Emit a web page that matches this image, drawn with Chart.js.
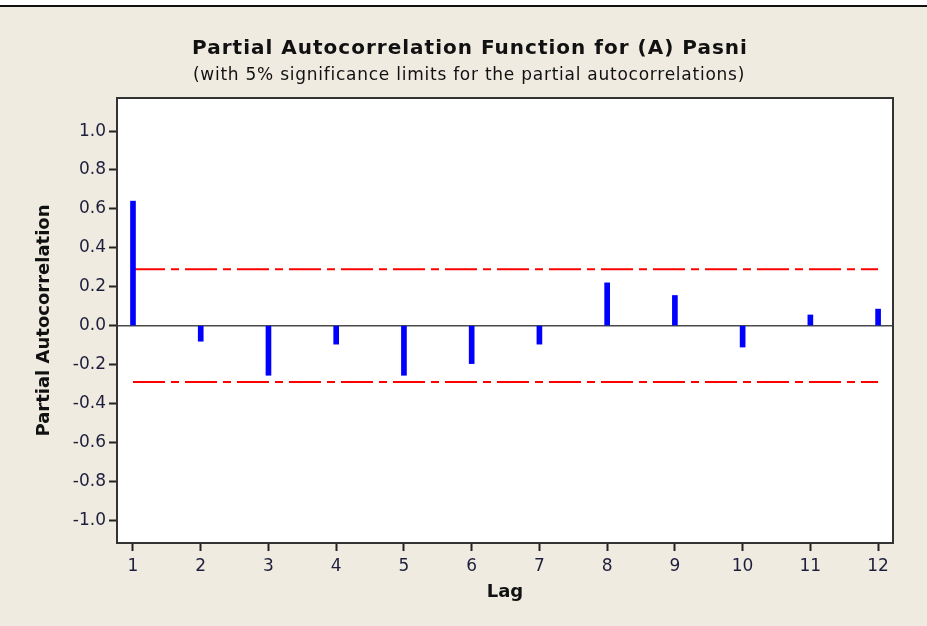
<!DOCTYPE html>
<html>
<head>
<meta charset="utf-8">
<title>Partial Autocorrelation Function for (A) Pasni</title>
<script src="https://cdn.jsdelivr.net/npm/chart.js@4.4.1/dist/chart.umd.min.js"></script>
<style>
  html, body { margin: 0; padding: 0; background: #efebe1; }
  #wrap { width: 927px; height: 626px; position: relative; }
</style>
</head>
<body>
<div id="wrap"><canvas id="pacf" width="927" height="626"></canvas></div>
<script>
// Lags and partial autocorrelation estimates
const lags = [1, 2, 3, 4, 5, 6, 7, 8, 9, 10, 11, 12];
const pacf = [0.64, -0.08, -0.255, -0.095, -0.255, -0.195, -0.095, 0.22, 0.155, -0.11, 0.055, 0.085];

// 5% significance limits
const upperLimit = [0.29, 0.29];
const lowerLimit = [-0.29, -0.29];
const limitLags = [1, 12];

// Axis tick values
const yTicks = [-1.0, -0.8, -0.6, -0.4, -0.2, 0.0, 0.2, 0.4, 0.6, 0.8, 1.0];
const xTicks = lags;

const titleText = 'Partial Autocorrelation Function for (A) Pasni';
const subtitleText = '(with 5% significance limits for the partial autocorrelations)';

const BG = '#efebe1';
const INK = '#1e1e3c';

// Page background, header rule, plot frame, zero line and titles
const decor = {
  id: 'decor',
  beforeDraw(chart) {
    const { ctx, chartArea: a, width, height } = chart;
    ctx.save();
    ctx.fillStyle = BG;
    ctx.fillRect(0, 0, width, height);
    ctx.fillStyle = '#ffffff';
    ctx.fillRect(0, 0, width, 5);
    ctx.fillStyle = '#111111';
    ctx.fillRect(0, 5, width, 2);
    ctx.fillStyle = '#ffffff';
    ctx.fillRect(a.left, a.top, a.right - a.left, a.bottom - a.top);

    ctx.fillStyle = '#111111';
    ctx.textAlign = 'center';
    ctx.textBaseline = 'alphabetic';
    ctx.font = 'bold 20px "DejaVu Sans", sans-serif';
    ctx.letterSpacing = '1px';
    ctx.fillText(titleText, 470, 54);
    ctx.font = '17px "DejaVu Sans", sans-serif';
    ctx.letterSpacing = '0.75px';
    ctx.fillText(subtitleText, 469, 80);
    ctx.letterSpacing = '0px';
    ctx.restore();
  },
  beforeDatasetsDraw(chart) {
    const { ctx, chartArea: a, scales } = chart;
    const y0 = scales.y.getPixelForValue(0);
    ctx.save();
    ctx.strokeStyle = '#4a4a4a';
    ctx.lineWidth = 1.5;
    ctx.beginPath();
    ctx.moveTo(a.left, y0);
    ctx.lineTo(a.right, y0);
    ctx.stroke();
    ctx.restore();
  },
  afterDraw(chart) {
    const { ctx, chartArea: a } = chart;
    ctx.save();
    ctx.strokeStyle = '#333333';
    ctx.lineWidth = 2;
    ctx.strokeRect(a.left, a.top, a.right - a.left, a.bottom - a.top);
    ctx.restore();
  }
};

const limitStyle = {
  type: 'line',
  borderColor: '#ff0000',
  borderWidth: 2,
  borderDash: [32, 6, 8, 6],
  pointRadius: 0,
  fill: false,
  order: 2
};

new Chart(document.getElementById('pacf'), {
  type: 'bar',
  data: {
    datasets: [
      {
        label: 'PACF',
        data: lags.map((l, i) => ({ x: l, y: pacf[i] })),
        backgroundColor: '#0000ff',
        borderWidth: 0,
        barThickness: 5,
        order: 1
      },
      Object.assign({ label: 'Upper limit', data: limitLags.map((l, i) => ({ x: l, y: upperLimit[i] })) }, limitStyle),
      Object.assign({ label: 'Lower limit', data: limitLags.map((l, i) => ({ x: l, y: lowerLimit[i] })) }, limitStyle)
    ]
  },
  options: {
    responsive: false,
    animation: false,
    events: [],
    layout: { padding: { top: 98, right: 34, bottom: 0, left: 0 } },
    plugins: {
      legend: { display: false },
      title: { display: false },
      tooltip: { enabled: false }
    },
    scales: {
      x: {
        type: 'linear',
        min: 0.764,
        max: 12.22,
        offset: false,
        afterBuildTicks(scale) { scale.ticks = xTicks.map(v => ({ value: v })); },
        afterFit(scale) { scale.height = 83; },
        border: { display: false },
        grid: { offset: false, drawOnChartArea: false, drawTicks: true, tickLength: 8, tickColor: '#222222', tickWidth: 2 },
        ticks: {
          color: INK,
          padding: 5,
          maxRotation: 0,
          font: { family: '"DejaVu Sans", sans-serif', size: 17 },
          callback: v => String(v)
        },
        title: {
          display: true,
          text: 'Lag',
          color: '#111111',
          font: { family: '"DejaVu Sans", sans-serif', size: 18, weight: 'bold', lineHeight: 1.2 },
          padding: { top: 23, bottom: 23 }
        }
      },
      y: {
        type: 'linear',
        min: -1.117,
        max: 1.17,
        afterBuildTicks(scale) { scale.ticks = yTicks.map(v => ({ value: v })); },
        afterFit(scale) { scale.width = 117; },
        border: { display: false },
        grid: { drawOnChartArea: false, drawTicks: true, tickLength: 8, tickColor: '#222222', tickWidth: 2 },
        ticks: {
          color: INK,
          padding: 3,
          font: { family: '"DejaVu Sans", sans-serif', size: 17 },
          callback: v => v.toFixed(1)
        },
        title: {
          display: true,
          text: 'Partial Autocorrelation',
          color: '#111111',
          font: { family: '"DejaVu Sans", sans-serif', size: 18, weight: 'bold', lineHeight: 1.2 },
          padding: { top: 34, bottom: 0 }
        }
      }
    }
  },
  plugins: [decor]
});
</script>
</body>
</html>
